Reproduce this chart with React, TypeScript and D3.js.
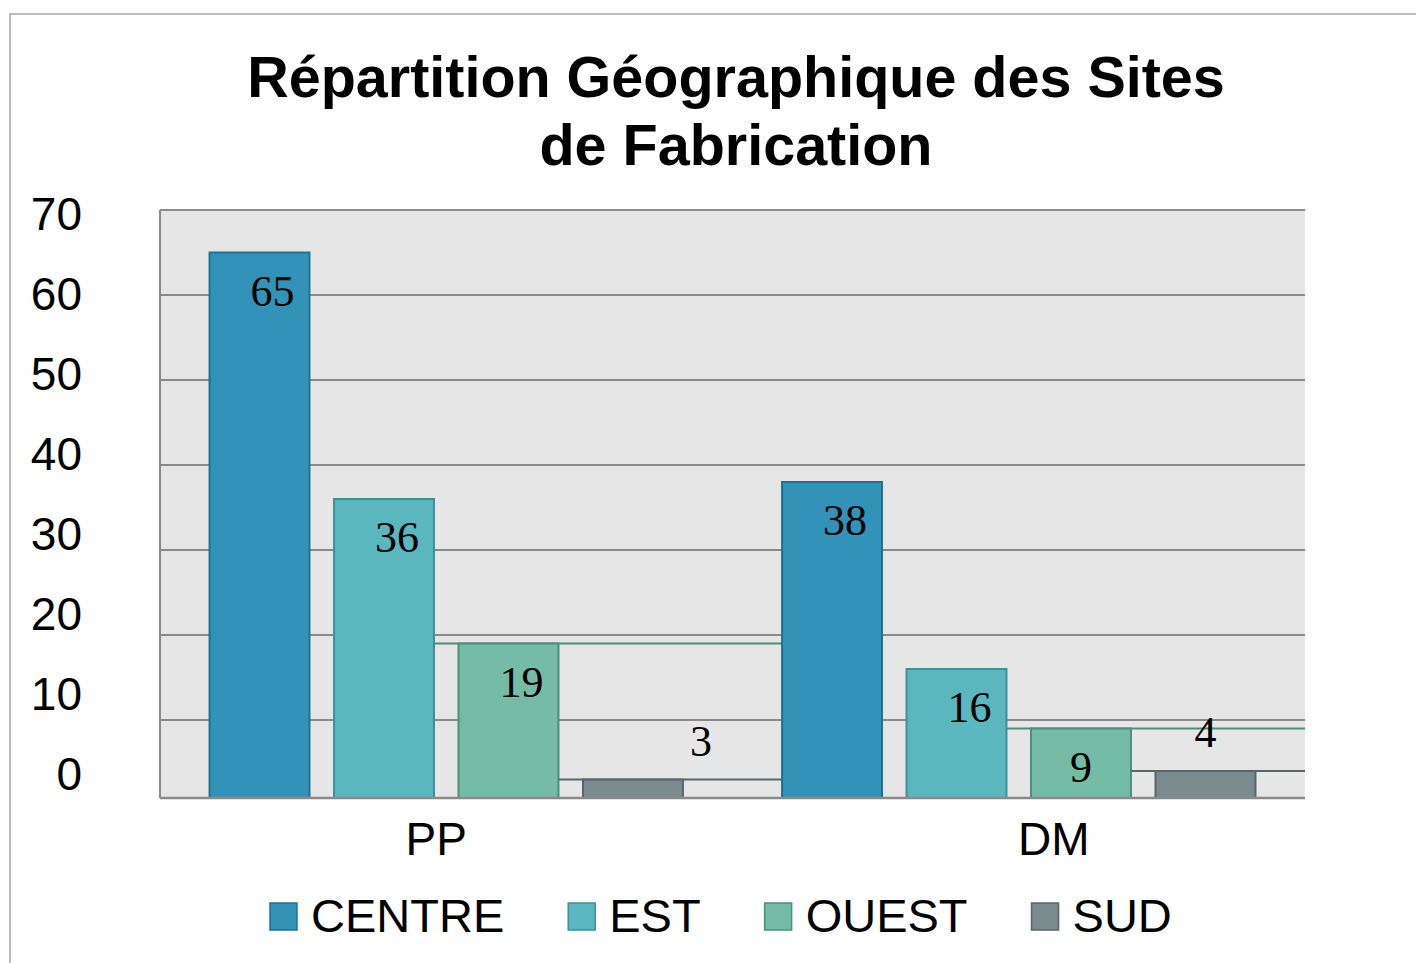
import React from "react";
import * as d3 from "d3";

// values
const categories = ["PP", "DM"];
const seriesNames = ["CENTRE", "EST", "OUEST", "SUD"];
const centre = [65, 38];
const est = [36, 16];
const ouest = [19, 9];
const sud = [3, 4];
const yTicks = [0, 10, 20, 30, 40, 50, 60, 70];
const titleLines = ["Répartition Géographique des Sites", "de Fabrication"];

const fills = ["#3392b8", "#5ab6bf", "#75bca6", "#7a8a8d"];
const strokes = ["#22718f", "#3f9098", "#4f8d7b", "#56666a"];

const W = 1416;
const H = 963;
const plot = { left: 160, right: 1305, top: 210, bottom: 798 };
const sansFont = "'Liberation Sans', Arial, sans-serif";
const serifFont = "'Liberation Serif', 'Times New Roman', serif";

// small layout nudges seen in the picture
const catLabelShift = [-10, 35];
const pointLabelShift: Record<string, number> = { "PP-SUD": 68 };

const measure = (txt: string, font: string) => {
  const ctx = document.createElement("canvas").getContext("2d");
  if (!ctx) return txt.length * 25;
  ctx.font = font;
  return ctx.measureText(txt).width;
};

const App = () => {
  const values = [centre, est, ouest, sud];

  const x0 = d3.scaleBand().domain(categories).range([plot.left, plot.right]);
  const x1 = d3
    .scaleBand()
    .domain(seriesNames)
    .range([0, x0.bandwidth()])
    .paddingInner(0.197)
    .paddingOuter(0.398);
  // zero sits a little below the drawn axis line, as in the picture
  const y = d3.scaleLinear().domain([0, 70]).range([805, plot.top]);
  // the tick labels sit on a slightly shorter scale
  const yLabel = d3.scaleLinear().domain([0, 70]).range([773, 213]);

  // legend layout
  const legendFont = `47px ${sansFont}`;
  let lx = 270;
  const legendItems = seriesNames.map((name, i) => {
    const item = { name, x: lx, color: fills[i], stroke: strokes[i] };
    lx += 28 + 13 + measure(name, legendFont) + 64;
    return item;
  });

  const barTop = (v: number) => Math.min(y(v), plot.bottom);

  return (
    <svg
      width={W}
      height={H}
      style={{ position: "absolute", left: 0, top: 0, background: "#fff" }}
    >
      <rect x={10} y={14} width={W} height={H} fill="#fff" stroke="#a6a6a6" strokeWidth={1.5} />

      {titleLines.map((t, i) => (
        <text
          key={t}
          x={736}
          y={97 + i * 68}
          textAnchor="middle"
          fontFamily={sansFont}
          fontWeight="bold"
          fontSize={57.5}
          fill="#000"
        >
          {t}
        </text>
      ))}

      {/* plot background and grid */}
      <rect
        x={plot.left}
        y={plot.top}
        width={plot.right - plot.left}
        height={plot.bottom - plot.top}
        fill="#e6e6e6"
      />
      {yTicks
        .filter((t) => y(t) < plot.bottom)
        .map((t) => (
          <line
            key={t}
            x1={plot.left}
            x2={plot.right}
            y1={y(t)}
            y2={y(t)}
            stroke="#8a8a8a"
            strokeWidth={2}
          />
        ))}
      <line x1={plot.left} x2={plot.left} y1={plot.top} y2={plot.bottom} stroke="#8a8a8a" strokeWidth={2} />

      {yTicks.map((t) => (
        <text
          key={t}
          x={82}
          y={yLabel(t)}
          dy="0.36em"
          textAnchor="end"
          fontFamily={sansFont}
          fontSize={46}
          fill="#000"
        >
          {t}
        </text>
      ))}

      {/* bars */}
      {categories.map((cat, ci) => {
        const gx = x0(cat) ?? 0;
        const nextStart =
          ci < categories.length - 1 ? (x0(categories[ci + 1]) ?? 0) + (x1(seriesNames[0]) ?? 0) : plot.right;
        return (
          <g key={cat}>
            {seriesNames.map((s, si) => {
              const v = values[si][ci];
              const bx = gx + (x1(s) ?? 0);
              const bw = x1.bandwidth();
              const prevRight = si > 0 ? gx + (x1(seriesNames[si - 1]) ?? 0) + bw : bx;
              const top = barTop(v);
              return (
                <g key={s}>
                  {si >= 2 && (
                    <line
                      x1={prevRight}
                      x2={nextStart}
                      y1={top}
                      y2={top}
                      stroke={strokes[si]}
                      strokeWidth={2}
                    />
                  )}
                  <rect
                    x={bx}
                    y={top}
                    width={bw}
                    height={plot.bottom - top}
                    fill={fills[si]}
                    stroke={strokes[si]}
                    strokeWidth={2}
                  />
                </g>
              );
            })}
          </g>
        );
      })}

      <line x1={plot.left} x2={plot.right} y1={plot.bottom} y2={plot.bottom} stroke="#8a8a8a" strokeWidth={2.5} />

      {/* value labels */}
      {categories.map((cat, ci) =>
        seriesNames.map((s, si) => {
          const v = values[si][ci];
          const cx = (x0(cat) ?? 0) + (x1(s) ?? 0) + x1.bandwidth() / 2;
          const big = v >= 10;
          const shift = pointLabelShift[`${cat}-${s}`] ?? 0;
          return (
            <text
              key={`${cat}-${s}`}
              x={big ? cx + 35 : cx + shift}
              y={v >= 5 ? barTop(v) + 53 : barTop(v) - 24}
              textAnchor={big ? "end" : "middle"}
              fontFamily={serifFont}
              fontSize={44}
              fill="#000"
            >
              {v}
            </text>
          );
        })
      )}

      {/* category labels */}
      {categories.map((cat, ci) => (
        <text
          key={cat}
          x={(x0(cat) ?? 0) + x0.bandwidth() / 2 + catLabelShift[ci]}
          y={855}
          textAnchor="middle"
          fontFamily={sansFont}
          fontSize={46}
          fill="#000"
        >
          {cat}
        </text>
      ))}

      {/* legend */}
      {legendItems.map((it) => (
        <g key={it.name}>
          <rect x={it.x} y={903} width={27} height={27} fill={it.color} stroke={it.stroke} strokeWidth={1.5} />
          <text x={it.x + 41} y={932} fontFamily={sansFont} fontSize={47} fill="#000">
            {it.name}
          </text>
        </g>
      ))}
    </svg>
  );
};

export default App;
